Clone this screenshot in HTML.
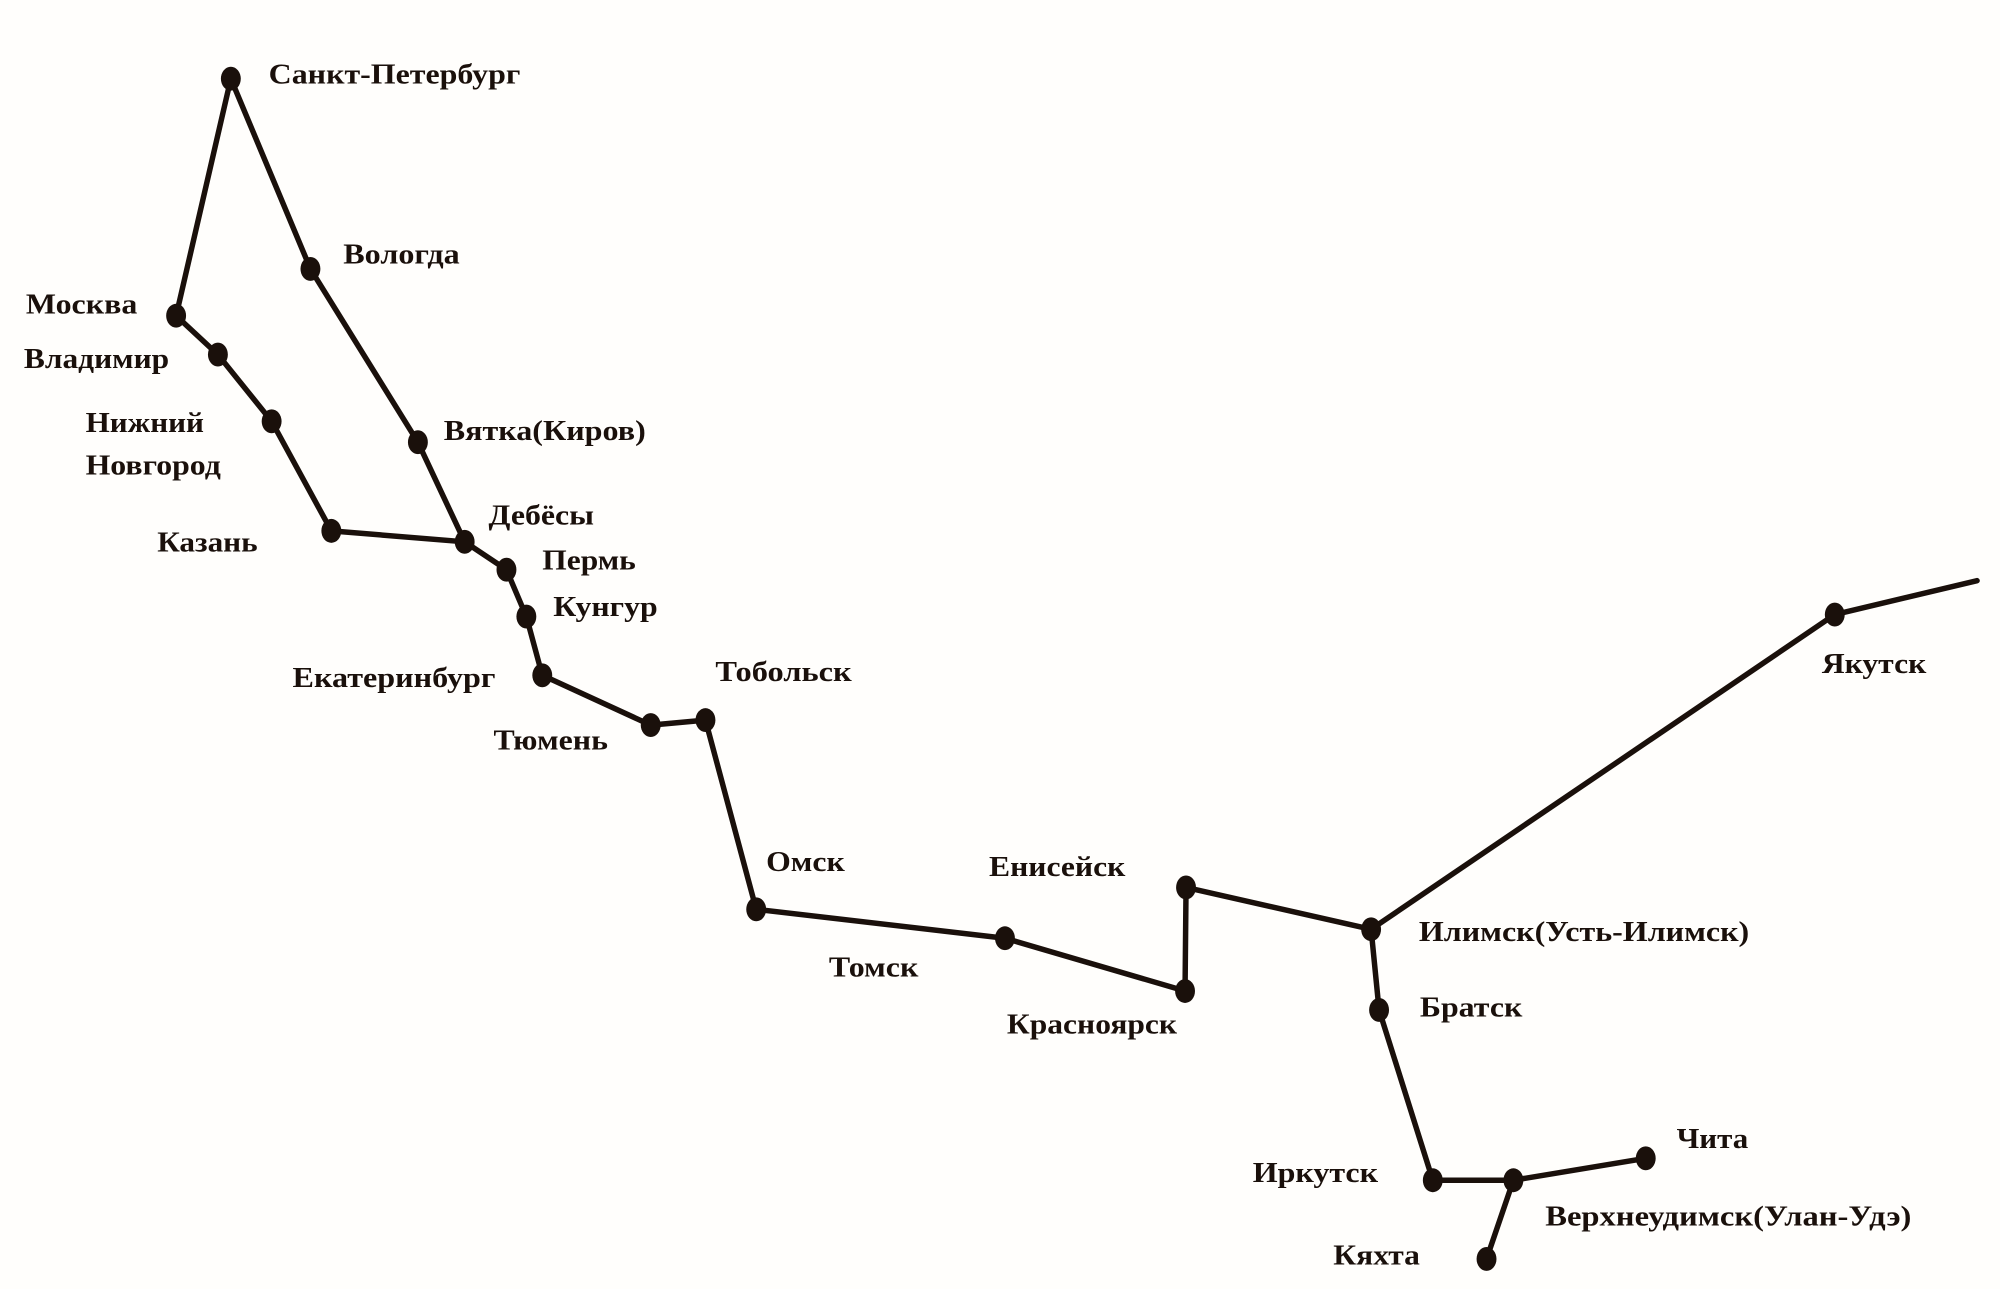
<!DOCTYPE html>
<html><head><meta charset="utf-8"><style>
html,body{margin:0;padding:0;background:#fff;}
svg{display:block}
text{font-family:"Liberation Serif","DejaVu Serif",serif;font-weight:bold;font-size:29px;fill:#1a100b;dominant-baseline:middle}
</style></head><body>
<svg width="2000" height="1289" viewBox="0 0 2000 1289" xmlns="http://www.w3.org/2000/svg">
<rect width="2000" height="1289" fill="#fffefc"/>
<g transform="scale(0.995 0.996)">
<g stroke="#1a100b" stroke-width="5.5" fill="none" stroke-linejoin="round" stroke-linecap="round">
<polyline points="177,317 232,79 312,270 420,444 467,544"/>
<polyline points="177,317 219,356 273,423 333,533 467,544 509,572 529,619 545,678 654,728 709,723 760,913 1010,942 1191,995 1192,891 1378,933 1844,617 1987,583"/>
<polyline points="1378,933 1386,1014 1440,1185 1521,1185 1654,1163"/>
<polyline points="1521,1185 1494,1264"/>
</g>
<g fill="#1a100b">
<ellipse cx="232" cy="79" rx="10" ry="12"/>
<ellipse cx="312" cy="270" rx="10" ry="12"/>
<ellipse cx="177" cy="317" rx="10" ry="12"/>
<ellipse cx="219" cy="356" rx="10" ry="12"/>
<ellipse cx="273" cy="423" rx="10" ry="12"/>
<ellipse cx="333" cy="533" rx="10" ry="12"/>
<ellipse cx="420" cy="444" rx="10" ry="12"/>
<ellipse cx="467" cy="544" rx="10" ry="12"/>
<ellipse cx="509" cy="572" rx="10" ry="12"/>
<ellipse cx="529" cy="619" rx="10" ry="12"/>
<ellipse cx="545" cy="678" rx="10" ry="12"/>
<ellipse cx="654" cy="728" rx="10" ry="12"/>
<ellipse cx="709" cy="723" rx="10" ry="12"/>
<ellipse cx="760" cy="913" rx="10" ry="12"/>
<ellipse cx="1010" cy="942" rx="10" ry="12"/>
<ellipse cx="1191" cy="995" rx="10" ry="12"/>
<ellipse cx="1192" cy="891" rx="10" ry="12"/>
<ellipse cx="1378" cy="933" rx="10" ry="12"/>
<ellipse cx="1844" cy="617" rx="10" ry="12"/>
<ellipse cx="1386" cy="1014" rx="10" ry="12"/>
<ellipse cx="1440" cy="1185" rx="10" ry="12"/>
<ellipse cx="1521" cy="1185" rx="10" ry="12"/>
<ellipse cx="1654" cy="1163" rx="10" ry="12"/>
<ellipse cx="1494" cy="1264" rx="10" ry="12"/>
</g>
<g>
<text x="270" y="77" textLength="253" lengthAdjust="spacingAndGlyphs">Санкт-Петербург</text>
<text x="345" y="258" textLength="117" lengthAdjust="spacingAndGlyphs">Вологда</text>
<text x="26" y="308" textLength="112" lengthAdjust="spacingAndGlyphs">Москва</text>
<text x="24" y="363" textLength="146" lengthAdjust="spacingAndGlyphs">Владимир</text>
<text x="86" y="427" textLength="119" lengthAdjust="spacingAndGlyphs">Нижний</text>
<text x="86" y="470" textLength="136" lengthAdjust="spacingAndGlyphs">Новгород</text>
<text x="158" y="547" textLength="101" lengthAdjust="spacingAndGlyphs">Казань</text>
<text x="446" y="435" textLength="203" lengthAdjust="spacingAndGlyphs">Вятка(Киров)</text>
<text x="491" y="520" textLength="106" lengthAdjust="spacingAndGlyphs">Дебёсы</text>
<text x="545" y="565" textLength="94" lengthAdjust="spacingAndGlyphs">Пермь</text>
<text x="556" y="612" textLength="105" lengthAdjust="spacingAndGlyphs">Кунгур</text>
<text x="294" y="683" textLength="204" lengthAdjust="spacingAndGlyphs">Екатеринбург</text>
<text x="719" y="677" textLength="137" lengthAdjust="spacingAndGlyphs">Тобольск</text>
<text x="496" y="746" textLength="115" lengthAdjust="spacingAndGlyphs">Тюмень</text>
<text x="770" y="868" textLength="79" lengthAdjust="spacingAndGlyphs">Омск</text>
<text x="994" y="873" textLength="137" lengthAdjust="spacingAndGlyphs">Енисейск</text>
<text x="833" y="974" textLength="90" lengthAdjust="spacingAndGlyphs">Томск</text>
<text x="1012" y="1031" textLength="171" lengthAdjust="spacingAndGlyphs">Красноярск</text>
<text x="1426" y="938" textLength="332" lengthAdjust="spacingAndGlyphs">Илимск(Усть-Илимск)</text>
<text x="1427" y="1014" textLength="103" lengthAdjust="spacingAndGlyphs">Братск</text>
<text x="1831" y="669" textLength="105" lengthAdjust="spacingAndGlyphs">Якутск</text>
<text x="1685" y="1146" textLength="72" lengthAdjust="spacingAndGlyphs">Чита</text>
<text x="1259" y="1180" textLength="126" lengthAdjust="spacingAndGlyphs">Иркутск</text>
<text x="1553" y="1224" textLength="368" lengthAdjust="spacingAndGlyphs">Верхнеудимск(Улан-Удэ)</text>
<text x="1340" y="1263" textLength="87" lengthAdjust="spacingAndGlyphs">Кяхта</text>
</g>
</g>
</svg>
</body></html>
